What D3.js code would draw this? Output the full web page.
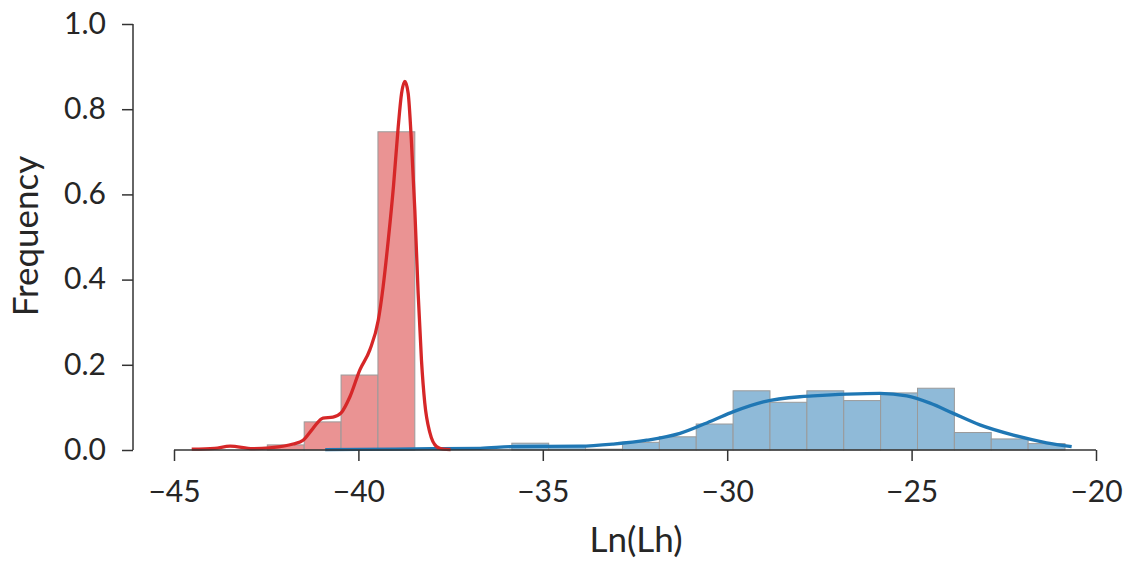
<!DOCTYPE html>
<html>
<head>
<meta charset="utf-8">
<script src="https://cdn.jsdelivr.net/npm/d3@7"></script>
<style>
  body { margin: 0; background: #fff; }
  svg text { font-family: "Source Sans Pro", Lato, sans-serif; fill: #262626; }
</style>
</head>
<body>
<div id="chart"></div>
<script>
// red series: histogram bins (left edge, frequency) and kde
var redBinStart = [-42.47, -41.47, -40.47, -39.47];
var redBinHeight = [0.012, 0.066, 0.176, 0.747];
var redKdeX = [-44.52, -43.9, -43.48, -42.86, -42.4, -41.77, -41.5, -41.23, -40.96, -40.69, -40.47, -40.23, -39.96, -39.69, -39.46, -39.33, -39.19, -39.05, -38.92, -38.83, -38.74, -38.65, -38.56, -38.47, -38.38, -38.29, -38.2, -38.06, -37.88, -37.7, -37.5];
var redKdeY = [0.002, 0.004, 0.009, 0.003, 0.005, 0.014, 0.023, 0.051, 0.075, 0.077, 0.087, 0.125, 0.188, 0.235, 0.305, 0.383, 0.493, 0.618, 0.759, 0.837, 0.865, 0.837, 0.72, 0.563, 0.368, 0.211, 0.110, 0.04, 0.008, 0.002, 0.001];

// blue series
var blueBinStart = [-35.84, -34.84, -33.84, -32.84, -31.84, -30.84, -29.84, -28.84, -27.84, -26.84, -25.84, -24.84, -23.84, -22.84, -21.84];
var blueBinHeight = [0.016, 0.010, 0.002, 0.018, 0.031, 0.061, 0.139, 0.112, 0.139, 0.116, 0.134, 0.145, 0.041, 0.026, 0.015];
var blueKdeX = [-40.9, -39, -38, -36.7, -35.8, -33.99, -33.09, -32.18, -31.28, -30.38, -29.83, -29.02, -28.03, -27.67, -26.76, -25.86, -25.13, -24.5, -23.87, -23.15, -22.24, -21.34, -20.66];
var blueKdeY = [0.001, 0.002, 0.003, 0.004, 0.008, 0.009, 0.014, 0.023, 0.039, 0.070, 0.090, 0.113, 0.125, 0.127, 0.131, 0.133, 0.127, 0.11, 0.086, 0.059, 0.035, 0.017, 0.008];

var binWidth = 1;
var xTicks = [-45, -40, -35, -30, -25, -20];
var yTicks = [0, 0.2, 0.4, 0.6, 0.8, 1.0];

var width = 1138, height = 565;

var svg = d3.select("#chart").append("svg")
    .attr("width", width)
    .attr("height", height);

var x = d3.scaleLinear().domain([-45, -20]).range([174, 1096]);
var y = d3.scaleLinear().domain([0, 1]).range([450, 24]);

function drawHist(starts, heights, fill) {
    svg.append("g").selectAll("rect")
        .data(starts)
        .enter().append("rect")
        .attr("x", function(d) { return x(d); })
        .attr("width", function(d) { return x(d + binWidth) - x(d); })
        .attr("y", function(d, i) { return y(heights[i]); })
        .attr("height", function(d, i) { return y(0) - y(heights[i]); })
        .attr("fill", fill)
        .attr("stroke", "#9a9a9a")
        .attr("stroke-width", 1);
}

drawHist(redBinStart, redBinHeight, "#ea9393");
drawHist(blueBinStart, blueBinHeight, "#8fbad8");

var line = d3.line()
    .curve(d3.curveMonotoneX)
    .x(function(d) { return x(d[0]); })
    .y(function(d) { return y(d[1]); });

svg.append("path")
    .datum(d3.zip(blueKdeX, blueKdeY))
    .attr("fill", "none")
    .attr("stroke", "#1f77b4")
    .attr("stroke-width", 3.3)
    .attr("d", line);

svg.append("path")
    .datum(d3.zip(redKdeX, redKdeY))
    .attr("fill", "none")
    .attr("stroke", "#d62728")
    .attr("stroke-width", 3.3)
    .attr("d", line);

// axes
var xAxis = svg.append("g")
    .attr("transform", "translate(0," + 450 + ")")
    .call(d3.axisBottom(x).tickValues(xTicks).tickSize(11)
        .tickFormat(function(d) { return "\u2212" + Math.abs(d); }));

var yAxis = svg.append("g")
    .attr("transform", "translate(133,0)")
    .call(d3.axisLeft(y).tickValues(yTicks).tickSize(11).tickPadding(16)
        .tickFormat(d3.format(".1f")));

svg.selectAll(".domain").attr("stroke", "#333").attr("stroke-width", 1.5);
svg.selectAll(".tick line").attr("stroke", "#333").attr("stroke-width", 1.5);
svg.selectAll(".tick text").style("font-size", "30px").attr("fill", "#262626");
xAxis.selectAll(".tick text").attr("y", 52).attr("dy", null);
yAxis.selectAll(".tick text").attr("dy", "0.31em");
xAxis.select(".domain").attr("d", "M" + x(-45) + ",0H" + x(-20));
yAxis.select(".domain").attr("d", "M0," + y(1) + "V" + y(0));

svg.append("text")
    .attr("x", 636)
    .attr("y", 552)
    .attr("text-anchor", "middle")
    .style("font-size", "35px")
    .text("Ln(Lh)");

svg.append("text")
    .attr("transform", "translate(38,236)rotate(-90)")
    .attr("text-anchor", "middle")
    .style("font-size", "35px")
    .text("Frequency");
</script>
</body>
</html>
